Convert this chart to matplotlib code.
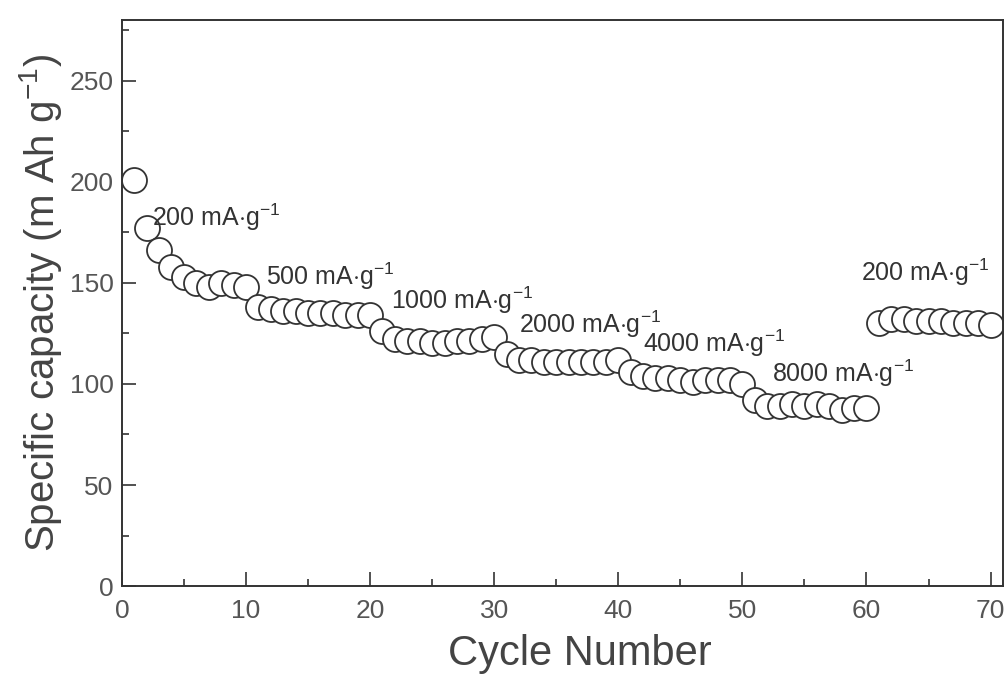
import numpy as np
import matplotlib
matplotlib.use("Agg")
import matplotlib.pyplot as plt
from matplotlib.ticker import MultipleLocator

plt.rcParams['font.family'] = ['Liberation Sans', 'DejaVu Sans']
plt.rcParams['mathtext.fontset'] = 'custom'
plt.rcParams['mathtext.rm'] = 'Liberation Sans'
plt.rcParams['mathtext.it'] = 'Liberation Sans:italic'

# cycle number and specific capacity (mAh/g)
cycles = np.arange(1, 71)
capacity = [
    201, 177, 166, 158, 153, 150, 148, 150, 149, 148,       # 200 mA/g
    138, 137, 136, 136, 135, 135, 135, 134, 134, 134,       # 500 mA/g
    126, 122, 121, 121, 120, 120, 121, 121, 122, 123,       # 1000 mA/g
    115, 112, 112, 111, 111, 111, 111, 111, 111, 112,       # 2000 mA/g
    106, 104, 103, 103, 102, 101, 102, 102, 102, 100,       # 4000 mA/g
    92, 89, 89, 90, 89, 90, 89, 87, 88, 88,                 # 8000 mA/g
    130, 132, 132, 131, 131, 131, 130, 130, 130, 129,       # 200 mA/g
]

rate_labels = ["200", "500", "1000", "2000", "4000", "8000", "200"]
label_x = [2.4, 11.6, 21.7, 32.0, 42.0, 52.4, 59.6]
label_y = [178, 149, 137, 125, 116, 101, 151]

ink = '#333333'

fig = plt.figure(figsize=(10.07, 6.84), dpi=100)
ax = fig.add_axes([0.121, 0.143, 0.875, 0.828])

ax.plot(cycles, capacity, linestyle='none', marker='o', markersize=18,
        markerfacecolor='white', markeredgecolor=ink, markeredgewidth=1.3)

for r, tx, ty in zip(rate_labels, label_x, label_y):
    ax.text(tx, ty, r + r" mA$\cdot$g$^{-1}$", fontsize=18, color=ink,
            ha='left', va='baseline')

ax.set_xlim(0, 71)
ax.set_ylim(0, 280)
ax.set_xticks(range(0, 71, 10))
ax.set_yticks(range(0, 251, 50))
ax.xaxis.set_minor_locator(MultipleLocator(5))
ax.yaxis.set_minor_locator(MultipleLocator(25))
ax.tick_params(which='both', direction='in', top=False, right=False,
               colors=ink, labelcolor='#555555', labelsize=19, width=1.2)
ax.tick_params(axis='x', which='major', length=10, pad=9)
ax.tick_params(axis='y', which='major', length=10, pad=6)
ax.tick_params(which='minor', length=5)

for s in ax.spines.values():
    s.set_color(ink)
    s.set_linewidth(1.4)

ax.set_xlabel('Cycle Number', fontsize=30, color='#444444', labelpad=12)
ax.xaxis.set_label_coords(0.52, -0.085)
ax.set_ylabel(r'Specific capacity (m Ah g$^{-1}$)', fontsize=29,
              color='#444444', labelpad=4)

fig.savefig('out.png', dpi=100)
